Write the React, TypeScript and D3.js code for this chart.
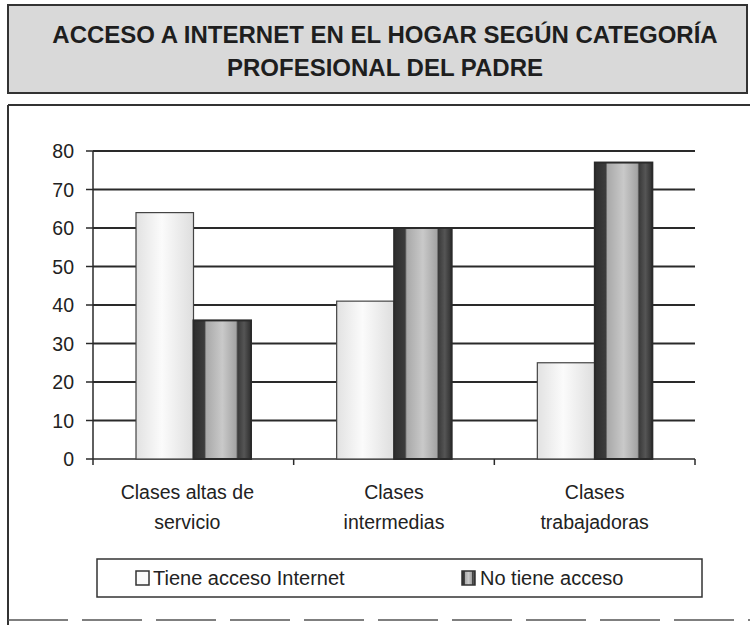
import React from "react";
import * as d3 from "d3";

const categories = [
  ["Clases altas de", "servicio"],
  ["Clases", "intermedias"],
  ["Clases", "trabajadoras"],
];
const categoryKeys = ["alta", "intermedia", "trabajadora"];
const seriesNames = ["Tiene acceso Internet", "No tiene acceso"];
const tieneAcceso = [64, 41, 25];
const noTieneAcceso = [36, 60, 77];
const yTicks = [0, 10, 20, 30, 40, 50, 60, 70, 80];
const titleLines = [
  "ACCESO A INTERNET EN EL HOGAR SEGÚN CATEGORÍA",
  "PROFESIONAL DEL PADRE",
];

const W = 750;
const H = 625;
const FONT = "'Liberation Sans', Arial, Helvetica, sans-serif";

export default function App() {
  const x = d3.scaleBand<string>().domain(categoryKeys).range([93, 695]).padding(0);
  const inner = d3.scaleBand<number>().domain([0, 1]).range([43, 158]).padding(0);
  const y = d3.scaleLinear().domain([0, 80]).range([459, 151]);
  const series = [tieneAcceso, noTieneAcceso];
  const bw = inner.bandwidth();

  return (
    <svg
      width={W}
      height={H}
      style={{ position: "absolute", left: 0, top: 0, background: "#fff" }}
      fontFamily={FONT}
    >
      <defs>
        <linearGradient id="lightG" x1="0" x2="1" y1="0" y2="0">
          <stop offset="0" stopColor="#e2e2e2" />
          <stop offset="0.45" stopColor="#fbfbfb" />
          <stop offset="1" stopColor="#dedede" />
        </linearGradient>
        <linearGradient id="darkG" x1="0" x2="1" y1="0" y2="0">
          <stop offset="0" stopColor="#2e2e2e" />
          <stop offset="0.19" stopColor="#3c3c3c" />
          <stop offset="0.22" stopColor="#a9a9a9" />
          <stop offset="0.5" stopColor="#c9c9c9" />
          <stop offset="0.74" stopColor="#a4a4a4" />
          <stop offset="0.77" stopColor="#3a3a3a" />
          <stop offset="0.88" stopColor="#555" />
          <stop offset="1" stopColor="#2e2e2e" />
        </linearGradient>
      </defs>

      {/* Title box */}
      <rect x={8} y={5} width={739} height={88} fill="#d9d9d9" stroke="#333" strokeWidth={2} />
      {titleLines.map((t, i) => (
        <text
          key={i}
          x={385}
          y={43 + i * 33}
          textAnchor="middle"
          fontWeight="bold"
          fontSize={24}
          fill="#1e1e1e"
        >
          {t}
        </text>
      ))}

      {/* Chart box */}
      <line x1={8} x2={750} y1={105} y2={105} stroke="#333" strokeWidth={2} />
      <line x1={8} x2={8} y1={105} y2={625} stroke="#333" strokeWidth={2} />
      <line x1={8} x2={750} y1={620} y2={620} stroke="#555" strokeWidth={1.5} strokeDasharray="60 14" />

      {/* Gridlines */}
      {yTicks.map((t) => (
        <g key={t}>
          {t > 0 && (
            <line x1={93} x2={695} y1={y(t)} y2={y(t)} stroke="#2a2a2a" strokeWidth={2} />
          )}
          <line x1={86} x2={93} y1={y(t)} y2={y(t)} stroke="#2a2a2a" strokeWidth={1.5} />
          <text x={74} y={y(t)} dy="0.36em" textAnchor="end" fontSize={19.5} fill="#222">
            {t}
          </text>
        </g>
      ))}

      {/* Axes */}
      <line x1={93} x2={93} y1={y(80)} y2={y(0)} stroke="#2a2a2a" strokeWidth={1.5} />
      <line x1={93} x2={695} y1={y(0)} y2={y(0)} stroke="#2a2a2a" strokeWidth={1.5} />
      {[...categoryKeys.map((k) => x(k) as number), 695].map((px, i) => (
        <line key={i} x1={px} x2={px} y1={y(0)} y2={y(0) + 6} stroke="#2a2a2a" strokeWidth={1.5} />
      ))}

      {/* Bars */}
      {categoryKeys.map((k, ci) => (
        <g key={k} transform={`translate(${x(k)},0)`}>
          {series.map((s, si) => (
            <rect
              key={si}
              x={inner(si)}
              y={y(s[ci])}
              width={bw}
              height={y(0) - y(s[ci])}
              fill={si === 0 ? "url(#lightG)" : "url(#darkG)"}
              stroke={si === 0 ? "#444" : "#2a2a2a"}
              strokeWidth={si === 0 ? 1.2 : 2}
            />
          ))}
        </g>
      ))}

      {/* Category labels */}
      {categoryKeys.map((k, ci) => {
        const cx = (x(k) as number) + x.bandwidth() / 2 - (ci === 0 ? 6 : 0);
        return (
          <text key={k} x={cx} y={499} textAnchor="middle" fontSize={19.5} fill="#222">
            {categories[ci].map((ln, li) => (
              <tspan key={li} x={cx} dy={li === 0 ? 0 : 30}>
                {ln}
              </tspan>
            ))}
          </text>
        );
      })}

      {/* Legend */}
      <rect x={97} y={559} width={605} height={38} fill="#fff" stroke="#333" strokeWidth={1.5} />
      <rect x={136} y={571} width={13} height={14} fill="#fafafa" stroke="#333" strokeWidth={1.5} />
      <text x={153} y={585} fontSize={20} fill="#222">
        {seriesNames[0]}
      </text>
      <rect x={462} y={571} width={13} height={14} fill="url(#darkG)" stroke="#333" strokeWidth={1.5} />
      <text x={480} y={585} fontSize={20} fill="#222">
        {seriesNames[1]}
      </text>
    </svg>
  );
}
